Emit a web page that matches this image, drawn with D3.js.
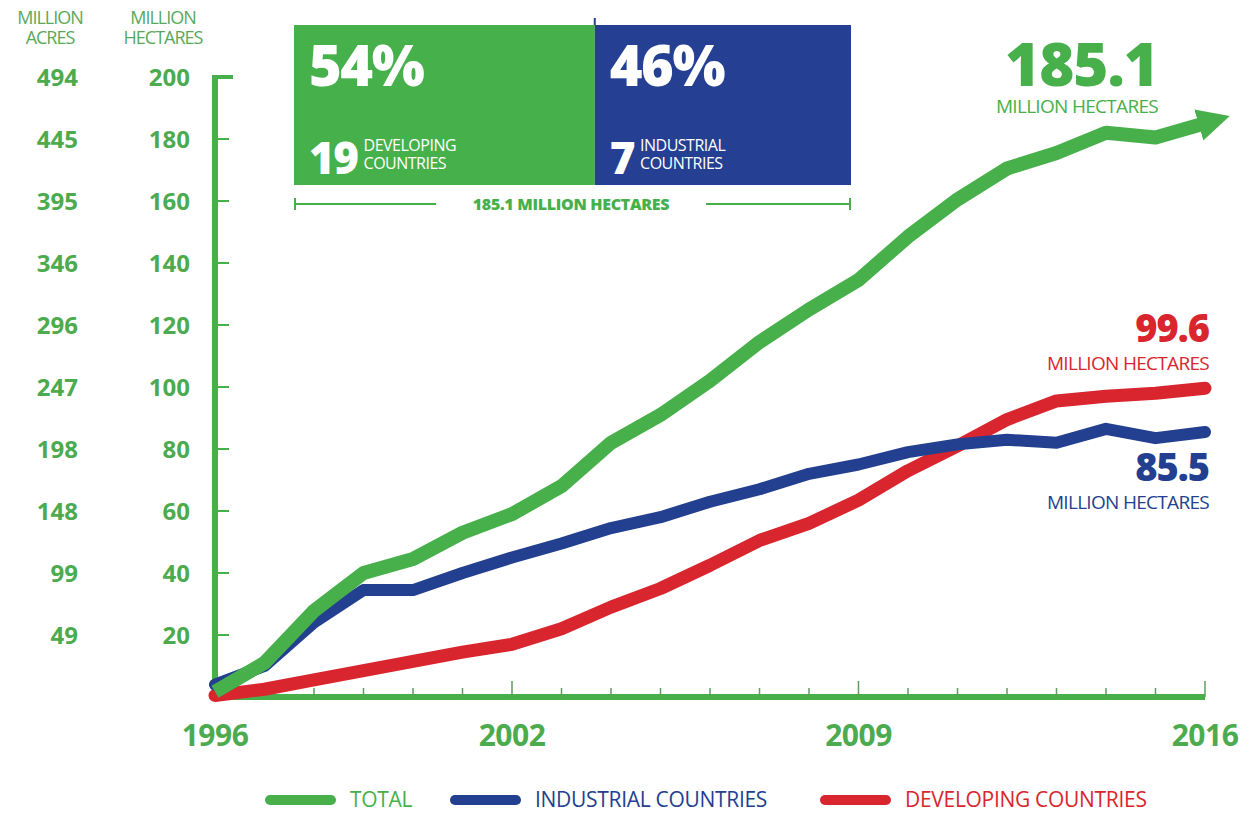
<!DOCTYPE html>
<html>
<head>
<meta charset="utf-8">
<script src="https://cdn.jsdelivr.net/npm/d3@7"></script>
<style>
  body { margin: 0; background: #fff; }
  text { font-family: "Open Sans", sans-serif; }
</style>
</head>
<body>
<svg id="svg" width="1253" height="813"></svg>
<script>
// data (million hectares)
var years = d3.range(1996, 2017);
var total = [1.7, 11, 27.8, 40, 44.5, 53, 59, 68, 82, 91, 102, 114.5, 125, 134.5, 148.5, 160.5, 170.5, 175.5, 182, 180.5, 185.1];
var industrial = [4, 10, 24, 34.5, 34.5, 40, 45, 49.5, 54.5, 58, 63, 67, 72, 75, 79, 81.5, 83, 82, 86.5, 83.5, 85.5];
var developing = [0.5, 2.5, 5.5, 8.5, 11.5, 14.5, 17, 22, 29, 35, 42.5, 50.5, 56, 63.5, 73, 81, 89.5, 95.5, 97, 98, 99.6];

var hectareTicks = [20, 40, 60, 80, 100, 120, 140, 160, 180, 200];
var acreTicks = [49, 99, 148, 198, 247, 296, 346, 395, 445, 494];
var yearLabels = [1996, 2002, 2009, 2016];

var seriesNames = ['TOTAL', 'INDUSTRIAL COUNTRIES', 'DEVELOPING COUNTRIES'];
var seriesColors = ['#47b04b', '#233f8f', '#d9252e'];
var labelGreen = '#4caa4f';

var svg = d3.select('#svg');

var x = d3.scaleLinear().domain([1996, 2016]).range([215, 1205]);
var y = d3.scaleLinear().domain([0, 200]).range([697, 77]);

/*************** axes ***************/
var yAxis = svg.append('g');
yAxis.append('line').attr('x1', x(1996)).attr('x2', x(1996))
  .attr('y1', y(200) - 2).attr('y2', y(0) + 3)
  .attr('stroke', seriesColors[0]).attr('stroke-width', 6);
yAxis.selectAll('.ytick').data(hectareTicks).enter().append('line')
  .attr('x1', x(1996)).attr('x2', function(d){ return x(1996) + (d == 200 ? 18 : 14); })
  .attr('y1', function(d){ return y(d); }).attr('y2', function(d){ return y(d); })
  .attr('stroke', seriesColors[0]).attr('stroke-width', function(d){ return d == 200 ? 4 : 2; });

svg.selectAll('.hlab').data(hectareTicks).enter().append('text')
  .attr('x', 190).attr('y', function(d){ return y(d) + 9; })
  .attr('text-anchor', 'end').attr('font-size', 24).attr('font-weight', 700)
  .attr('fill', labelGreen).text(function(d){ return d; });
svg.selectAll('.alab').data(acreTicks).enter().append('text')
  .attr('x', 78).attr('y', function(d, i){ return y(hectareTicks[i]) + 9; })
  .attr('text-anchor', 'end').attr('font-size', 24).attr('font-weight', 700)
  .attr('fill', labelGreen).text(function(d){ return d; });

function header(cx, lines) {
  svg.append('text').attr('x', cx).attr('y', 24).attr('text-anchor', 'middle')
    .attr('font-size', 18).attr('fill', '#5aa85c').attr('letter-spacing', -1).text(lines[0]);
  svg.append('text').attr('x', cx).attr('y', 44).attr('text-anchor', 'middle')
    .attr('font-size', 18).attr('fill', '#5aa85c').attr('letter-spacing', -1).text(lines[1]);
}
header(50, ['MILLION', 'ACRES']);
header(163, ['MILLION', 'HECTARES']);

var xAxis = svg.append('g');
xAxis.append('line').attr('x1', x(1996) - 3).attr('x2', x(2016))
  .attr('y1', y(0)).attr('y2', y(0))
  .attr('stroke', seriesColors[0]).attr('stroke-width', 6);
xAxis.selectAll('.xtick').data(years.slice(1)).enter().append('line')
  .attr('x1', function(d){ return x(d); }).attr('x2', function(d){ return x(d); })
  .attr('y1', y(0)).attr('y2', function(d){ return y(0) - (yearLabels.indexOf(d) >= 0 ? 16 : 9); })
  .attr('stroke', '#5f9d5f').attr('stroke-width', 1.5);
svg.selectAll('.xlab').data(yearLabels).enter().append('text')
  .attr('x', function(d){ return x(d); }).attr('y', 746)
  .attr('text-anchor', 'middle').attr('font-size', 30).attr('font-weight', 700)
  .attr('fill', labelGreen).attr('letter-spacing', -0.5).text(function(d){ return d; });

/*************** lines ***************/
var line = d3.line()
  .x(function(d, i){ return x(years[i]); })
  .y(function(d){ return y(d); });

svg.append('defs').append('marker')
  .attr('id', 'arrow').attr('viewBox', '0 0 10 10').attr('refX', 2).attr('refY', 5)
  .attr('markerWidth', 2.3).attr('markerHeight', 2.6).attr('orient', 'auto')
  .attr('markerUnits', 'strokeWidth')
  .append('path').attr('d', 'M0,0 L10,5 L0,10 Z').attr('fill', seriesColors[0]);

var lineData = [
  {values: developing, color: seriesColors[2], width: 13},
  {values: industrial, color: seriesColors[1], width: 12},
  {values: total, color: seriesColors[0], width: 14, arrow: true}
];
lineData.forEach(function(s){
  var p = svg.append('path').attr('d', line(s.values))
    .attr('fill', 'none').attr('stroke', s.color).attr('stroke-width', s.width)
    .attr('stroke-linejoin', 'round').attr('stroke-linecap', s.arrow ? 'butt' : 'round');
  if (s.arrow) p.attr('marker-end', 'url(#arrow)');
});

/*************** end labels ***************/
function endLabel(xr, yBig, big, bigSize, color) {
  svg.append('text').attr('x', xr).attr('y', yBig).attr('text-anchor', 'end')
    .attr('font-size', bigSize).attr('font-weight', 800).attr('fill', color)
    .attr('letter-spacing', -1).text(big);
  svg.append('text').attr('x', xr).attr('y', yBig + (bigSize > 50 ? 27 : 28)).attr('text-anchor', 'end')
    .attr('font-size', 19).attr('fill', color).attr('letter-spacing', -0.7).text('MILLION HECTARES');
}
endLabel(1158, 86, total[total.length - 1], 60, seriesColors[0]);
endLabel(1209, 342, developing[developing.length - 1], 38, seriesColors[2]);
endLabel(1209, 481, industrial[industrial.length - 1], 38, seriesColors[1]);

/*************** share box ***************/
var shares = [54, 46];
var countryCounts = [19, 7];
var shareLabels = [['DEVELOPING', 'COUNTRIES'], ['INDUSTRIAL', 'COUNTRIES']];
var boxColors = ['#46b04a', '#253f92'];
var boxX = d3.scaleLinear().domain([0, 100]).range([294, 851]);

var box = svg.append('g');
var cum = 0;
shares.forEach(function(s, i){
  var x0 = boxX(cum);
  cum += s;
  box.append('rect').attr('x', x0).attr('y', 25).attr('width', boxX(cum) - x0).attr('height', 160)
    .attr('fill', boxColors[i]);
  box.append('text').attr('x', x0 + 15).attr('y', 86).attr('font-size', 56).attr('font-weight', 800)
    .attr('fill', '#fff').attr('letter-spacing', -1.5).text(s + '%');
  var num = box.append('text').attr('x', x0 + 15).attr('y', 174).attr('font-size', 44).attr('font-weight', 800)
    .attr('fill', '#fff').attr('letter-spacing', -1.5).text(countryCounts[i]);
  var w = num.node().getComputedTextLength();
  box.append('text').attr('x', x0 + 15 + w + 6).attr('y', 151).attr('font-size', 16)
    .attr('fill', '#fff').attr('letter-spacing', -0.5).text(shareLabels[i][0]);
  box.append('text').attr('x', x0 + 15 + w + 6).attr('y', 169).attr('font-size', 16)
    .attr('fill', '#fff').attr('letter-spacing', -0.5).text(shareLabels[i][1]);
});
box.append('line').attr('x1', boxX(54)).attr('x2', boxX(54)).attr('y1', 18).attr('y2', 25)
  .attr('stroke', '#253f92').attr('stroke-width', 2);

// bracket
var br = svg.append('g');
br.append('line').attr('x1', 294).attr('x2', 436).attr('y1', 204).attr('y2', 204).attr('stroke', seriesColors[0]).attr('stroke-width', 2);
br.append('line').attr('x1', 706).attr('x2', 851).attr('y1', 204).attr('y2', 204).attr('stroke', seriesColors[0]).attr('stroke-width', 2);
br.append('line').attr('x1', 295).attr('x2', 295).attr('y1', 198).attr('y2', 210).attr('stroke', seriesColors[0]).attr('stroke-width', 2);
br.append('line').attr('x1', 850).attr('x2', 850).attr('y1', 198).attr('y2', 210).attr('stroke', seriesColors[0]).attr('stroke-width', 2);
br.append('text').attr('x', 571).attr('y', 210).attr('text-anchor', 'middle').attr('font-size', 16)
  .attr('font-weight', 800).attr('fill', seriesColors[0]).attr('letter-spacing', -0.3)
  .text(total[total.length - 1] + ' MILLION HECTARES');

/*************** legend ***************/
var legendX = [265, 450, 820];
var lg = svg.append('g');
seriesNames.forEach(function(n, i){
  lg.append('line').attr('x1', legendX[i] + 5).attr('x2', legendX[i] + 66).attr('y1', 800).attr('y2', 800)
    .attr('stroke', seriesColors[i]).attr('stroke-width', 10).attr('stroke-linecap', 'round');
  lg.append('text').attr('x', legendX[i] + 85).attr('y', 807).attr('font-size', 21)
    .attr('fill', seriesColors[i]).attr('letter-spacing', -0.3).text(n);
});
</script>
</body>
</html>
